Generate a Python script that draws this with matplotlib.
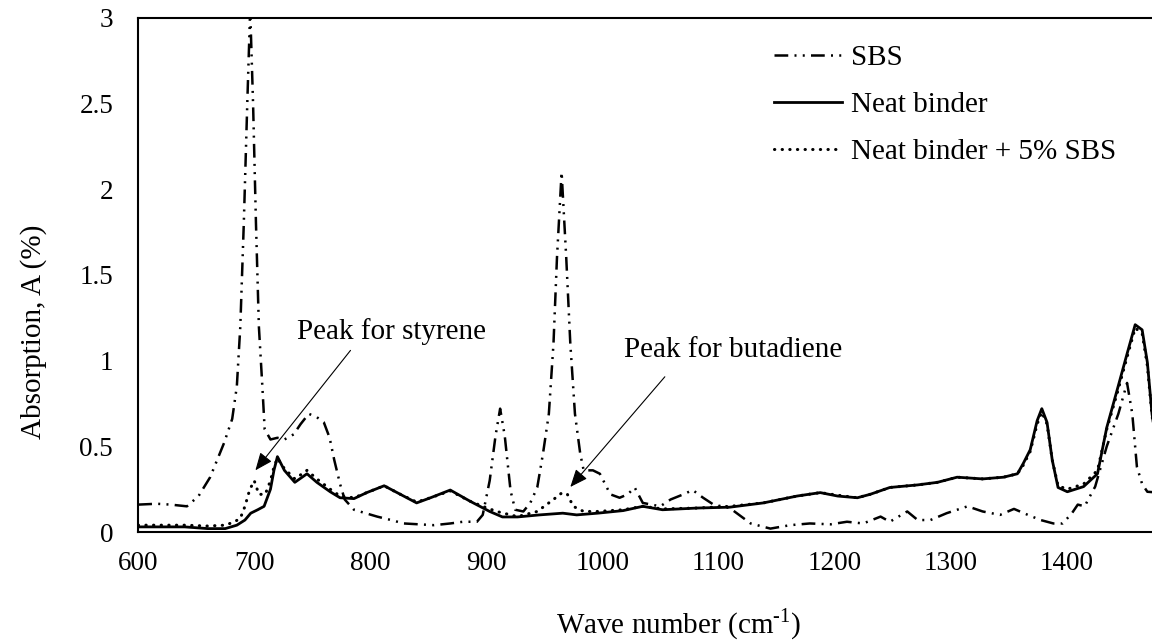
import matplotlib
matplotlib.use("Agg")
import matplotlib.pyplot as plt
from matplotlib.ticker import FuncFormatter

plt.rcParams["font.family"] = ["Liberation Serif", "DejaVu Serif"]
plt.rcParams["mathtext.fontset"] = "custom"
plt.rcParams["mathtext.rm"] = "Liberation Serif"

# spectra (wave number in cm-1, absorption)
sbs_wn = [600, 616, 628, 642, 652, 662, 674, 681, 685, 688, 691, 694, 696.5, 699, 701.5, 704, 707, 709,
          714, 720, 726, 734, 740, 747, 754, 760, 765, 769, 774, 778, 786, 796, 806, 818, 829, 842, 855,
          869, 880, 892, 897, 903, 908, 912, 916, 921, 925, 932, 938, 944, 949, 954, 958, 961, 965, 969,
          972.5, 976.5, 981, 984, 992, 998, 1007, 1015, 1022, 1028, 1035, 1050, 1059, 1070, 1078, 1087,
          1096, 1110, 1116, 1128, 1145, 1162, 1179, 1197, 1211, 1225, 1240, 1248, 1263, 1272, 1283, 1297,
          1315, 1328, 1343, 1355, 1367, 1378, 1389, 1397, 1405, 1410, 1416, 1419, 1425, 1435, 1445,
          1452.5, 1457, 1461, 1465.5, 1470, 1480]
sbs_abs = [0.16, 0.165, 0.16, 0.15, 0.21, 0.32, 0.52, 0.66, 0.85, 1.2, 1.8, 2.5, 3.05, 2.5, 1.8, 1.2, 0.85, 0.6,
           0.54, 0.55, 0.54, 0.57, 0.63, 0.69, 0.67, 0.64, 0.55, 0.42, 0.28, 0.19, 0.13, 0.11, 0.09, 0.07, 0.05, 0.045, 0.04,
           0.05, 0.06, 0.06, 0.1, 0.3, 0.56, 0.72, 0.56, 0.24, 0.13, 0.12, 0.17, 0.26, 0.46, 0.69, 1.1, 1.6, 2.1, 1.6,
           1.1, 0.69, 0.46, 0.36, 0.36, 0.34, 0.22, 0.2, 0.22, 0.26, 0.17, 0.15, 0.19, 0.22, 0.245, 0.2,
           0.16, 0.14, 0.11, 0.05, 0.02, 0.04, 0.05, 0.045, 0.06, 0.05, 0.09, 0.06, 0.12, 0.07, 0.07, 0.11,
           0.15, 0.12, 0.1, 0.135, 0.1, 0.07, 0.05, 0.05, 0.11, 0.16, 0.15, 0.19, 0.265, 0.5, 0.69,
           0.87, 0.69, 0.38, 0.28, 0.235, 0.23]

neat_wn = [600, 640, 660, 675, 685, 692, 697, 703, 708.5, 714, 717, 720, 726, 735, 745.5, 754, 765.5, 774,
           786, 797, 812, 826, 840, 852, 869, 886, 903, 914, 927, 946, 966, 978, 996, 1018, 1035, 1052, 1082,
           1110, 1139, 1168, 1188, 1203, 1220, 1231, 1248, 1272, 1289, 1306, 1328, 1346, 1358, 1363, 1369,
           1375, 1379, 1383.5, 1388, 1393, 1401, 1415, 1427, 1435, 1444, 1452.5, 1459.5, 1465.5, 1470, 1474, 1480]
neat_abs = [0.03, 0.03, 0.02, 0.02, 0.04, 0.07, 0.11, 0.13, 0.15, 0.25, 0.36, 0.44, 0.36, 0.29, 0.34, 0.29, 0.235, 0.2,
            0.195, 0.23, 0.27, 0.22, 0.17, 0.2, 0.245, 0.18, 0.12, 0.088, 0.088, 0.1, 0.11, 0.1, 0.11, 0.125, 0.15, 0.13, 0.14,
            0.145, 0.17, 0.21, 0.23, 0.21, 0.2, 0.22, 0.26, 0.275, 0.29, 0.32, 0.31, 0.32, 0.34, 0.40, 0.48,
            0.65, 0.72, 0.64, 0.42, 0.26, 0.235, 0.265, 0.34, 0.61, 0.83, 1.04, 1.21, 1.18, 0.99, 0.69, 0.4]

mix_wn = [600, 640, 660, 675, 683, 688, 692, 696, 700, 704, 709.5, 714, 717, 720, 726, 735, 745.5, 754, 765.5,
          774, 786, 797, 812, 826, 840, 852, 869, 886, 897, 909, 927, 944, 958, 965.5, 970, 975, 984, 996,
          1018, 1035, 1052, 1082, 1110, 1139, 1168, 1188, 1203, 1220, 1231, 1248, 1272, 1289, 1306, 1328,
          1346, 1358, 1363, 1369, 1375, 1379, 1383.5, 1388, 1393, 1401, 1415, 1427, 1435, 1444, 1452.5,
          1459.5, 1465.5, 1470, 1474, 1480]
mix_abs = [0.04, 0.04, 0.035, 0.04, 0.06, 0.08, 0.15, 0.245, 0.30, 0.22, 0.22, 0.3, 0.38, 0.43, 0.37, 0.31, 0.36, 0.31, 0.25,
           0.21, 0.2, 0.23, 0.27, 0.22, 0.175, 0.2, 0.24, 0.18, 0.15, 0.12, 0.09, 0.12, 0.19, 0.23, 0.22, 0.15, 0.12, 0.12,
           0.13, 0.15, 0.135, 0.14, 0.15, 0.17, 0.21, 0.23, 0.215, 0.2, 0.22, 0.26, 0.275, 0.29, 0.32, 0.31,
           0.32, 0.34, 0.39, 0.47, 0.63, 0.70, 0.63, 0.42, 0.27, 0.25, 0.28, 0.36, 0.6, 0.81, 1.02,
           1.19, 1.16, 0.97, 0.68, 0.4]

fig = plt.figure(figsize=(11.52, 6.41), dpi=100)
ax = fig.add_axes([0.12, 0.17, 0.88, 0.802])

ax.plot(sbs_wn, sbs_abs, color="black", lw=1.8, linestyle=(0, (5.5, 2.5, 0.8, 2.5, 0.8, 2.5)), label="SBS")
ax.plot(neat_wn, neat_abs, color="black", lw=2.0, label="Neat binder")
ax.plot(mix_wn, mix_abs, color="black", lw=2.2, linestyle=(0, (0.1, 2.4)), dash_capstyle="round",
        label="Neat binder + 5% SBS")

ax.set_xlim(600, 1474)
ax.set_ylim(0, 3)
ax.set_xticks(range(600, 1401, 100))
ax.set_yticks([0, 0.5, 1, 1.5, 2, 2.5, 3])
ax.yaxis.set_major_formatter(FuncFormatter(lambda v, p: "%g" % v))
ax.tick_params(axis="both", length=0, labelsize=19.5)
ax.tick_params(axis="x", pad=14)
ax.tick_params(axis="y", pad=18)
for s in ["left", "bottom", "top"]:
    ax.spines[s].set_linewidth(1.5)
ax.spines["right"].set_visible(False)

# axis titles (the original plot area runs past the right edge, so the x title sits right of centre)
fig.text(679 / 1152, 1 - 624 / 641, r"Wave number (cm$^{\text{-1}}$)", fontsize=21,
         ha="center", va="center")
fig.text(34 / 1152, 1 - 332 / 641, "Absorption, A (%)", fontsize=21, rotation=90,
         ha="center", va="center")

arrow = dict(arrowstyle="-|>,head_length=0.6,head_width=0.25", mutation_scale=18, lw=0.8, color="black",
             shrinkA=0, shrinkB=0)
ax.annotate("", xy=(701, 0.36), xytext=(783, 1.06), arrowprops=arrow)
ax.text(818, 1.17, "Peak for styrene", fontsize=21, ha="center", va="center")
ax.annotate("", xy=(972.5, 0.263), xytext=(1054, 0.906), arrowprops=arrow)
ax.text(1113, 1.06, "Peak for butadiene", fontsize=21, ha="center", va="center")

ax.legend(loc="upper left", bbox_to_anchor=(0.672, 0.93), bbox_transform=fig.transFigure, frameon=False,
          fontsize=21, handlelength=2.33, handletextpad=0.3, labelspacing=0.7, borderpad=0, borderaxespad=0)

fig.savefig("out.png", dpi=100)
